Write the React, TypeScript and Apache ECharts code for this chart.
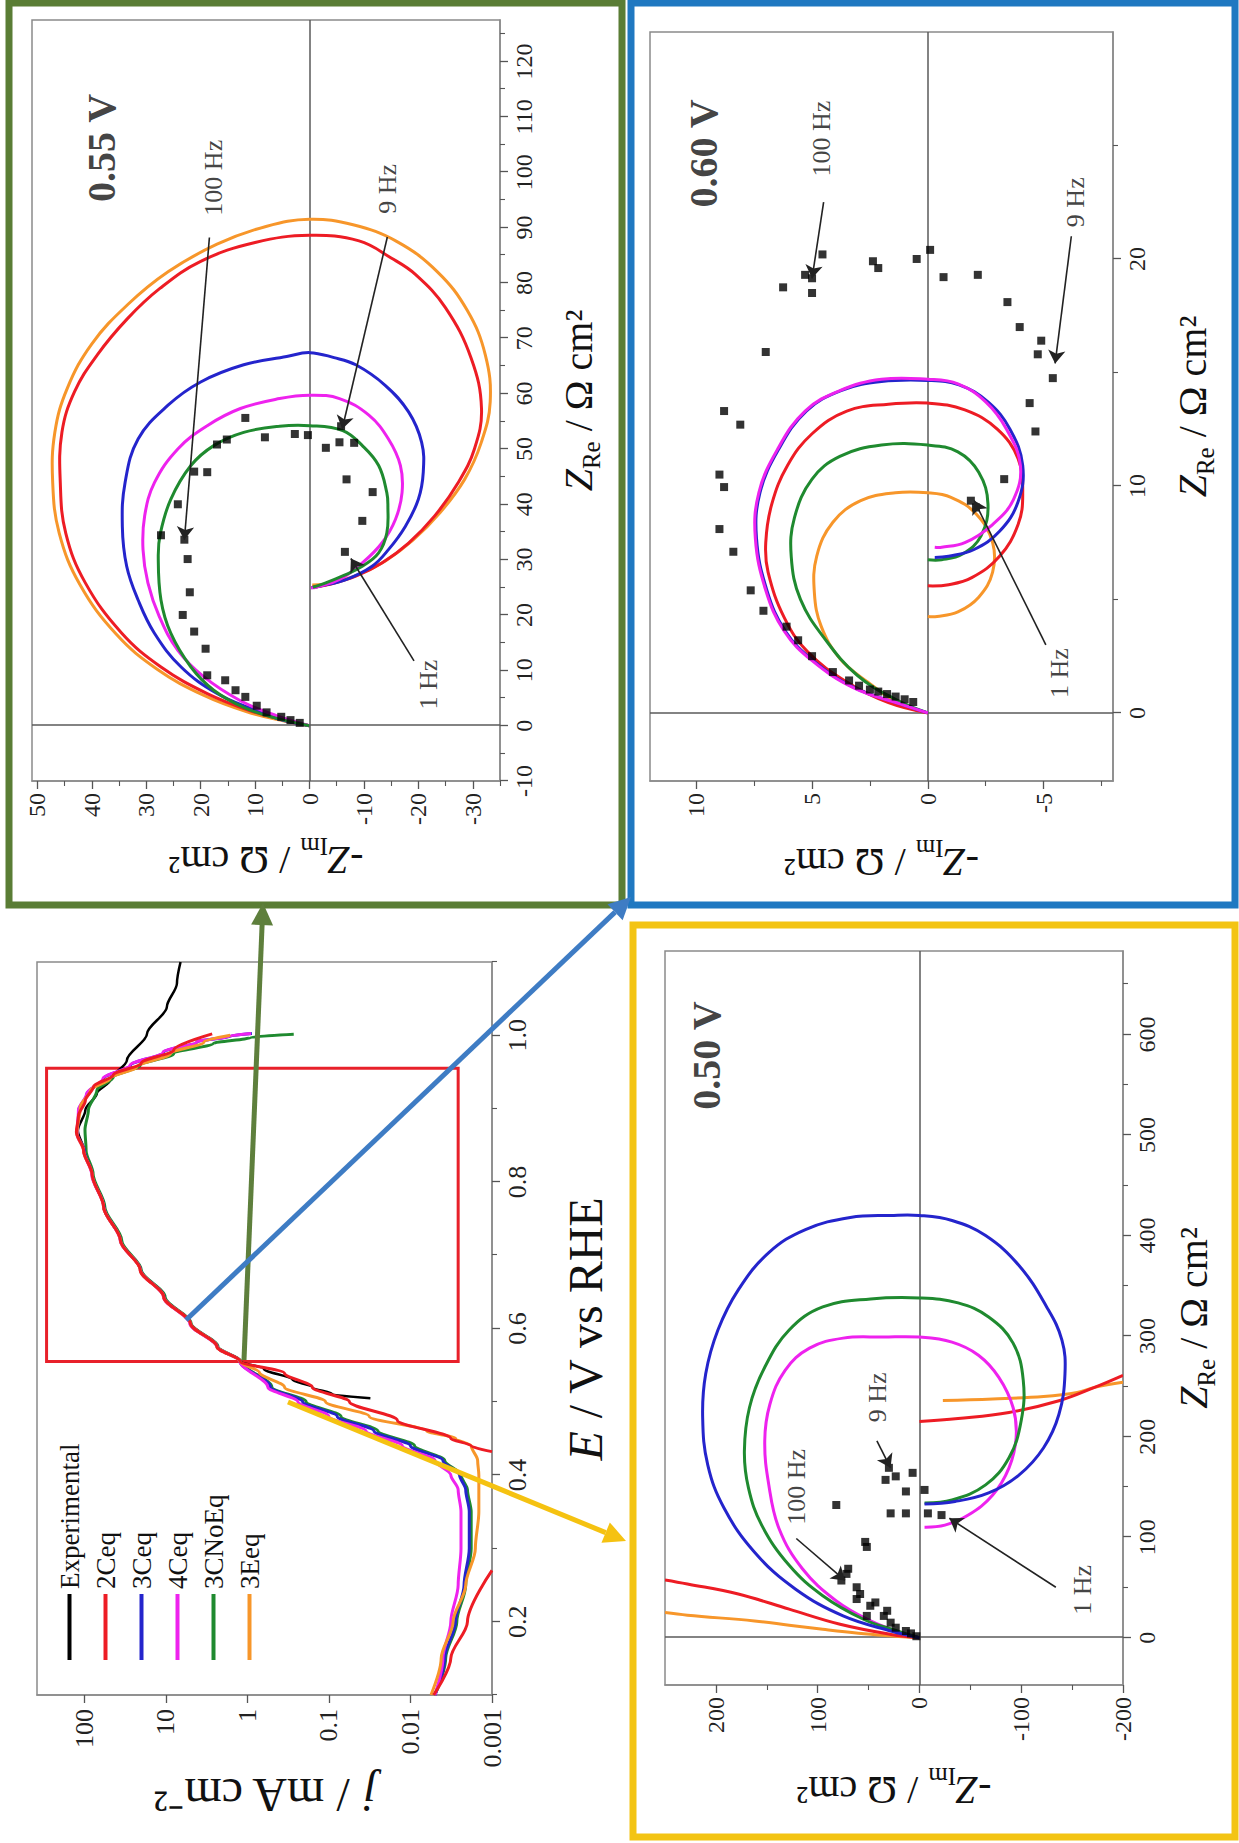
import React, { useEffect, useRef } from 'react';
import * as echarts from 'echarts';

const SERIF = "'Liberation Serif', 'Times New Roman', Times, serif";
const FRAME = '#8a8a8a';
const TICK = '#555555';
const ZERO = '#5a5a5a';
const COL = { exp: '#000000', c2: '#ED1C24', c3: '#2424CC', c4: '#EE22EE', c3n: '#1F8A2F', e3: '#F7962A' };

// ---------------- Polarization curve: j (mA cm-2) vs E (V vs RHE) ----------------
const pE_exp = [0.505, 0.51, 0.52, 0.53, 0.545, 0.555, 0.575, 0.607, 0.643, 0.68, 0.72, 0.766, 0.81, 0.843, 0.87, 0.898, 0.921, 0.939, 0.966, 1.002, 1.039, 1.071, 1.1];
const pJ_exp = [0.031, 0.09, 0.16, 0.28, 0.63, 1.2, 2.35, 5.0, 10.5, 20.5, 36, 58, 80, 101, 120, 97, 70, 48, 30, 17, 9.7, 7.3, 6.6];
const pE_2Ca = [0.1, 0.15, 0.2, 0.27];
const pJ_2Ca = [0.0052, 0.0032, 0.002, 0.001];
const pE_2Cb = [0.432, 0.44, 0.45, 0.475, 0.5, 0.52, 0.539, 0.555, 0.575, 0.607, 0.643, 0.68, 0.72, 0.766, 0.81, 0.843, 0.868, 0.89, 0.911, 0.93, 0.946, 0.962, 0.98, 1.002];
const pJ_2Cb = [0.001, 0.0018, 0.0032, 0.0145, 0.056, 0.16, 0.35, 1.22, 2.36, 5.0, 10.6, 20.6, 36, 58, 80, 102, 125, 118, 97, 77, 44, 20, 8.0, 2.7];
const pE_3C = [0.1, 0.15, 0.2, 0.25, 0.3, 0.35, 0.38, 0.4, 0.42, 0.44, 0.46, 0.48, 0.5, 0.52, 0.555, 0.575, 0.607, 0.643, 0.68, 0.72, 0.766, 0.81, 0.843, 0.865, 0.898, 0.92, 0.941, 0.959, 0.977, 0.991, 0.999, 1.0025];
const pJ_3C = [0.005, 0.0038, 0.0028, 0.0022, 0.0019, 0.0019, 0.0021, 0.0025, 0.004, 0.01, 0.028, 0.079, 0.21, 0.52, 1.23, 2.34, 5.0, 10.5, 20.4, 35.9, 57.5, 80, 100, 121, 117, 93, 58, 27, 10.6, 4.15, 1.62, 0.88];
const pE_4C = [0.1, 0.15, 0.2, 0.25, 0.3, 0.35, 0.38, 0.4, 0.42, 0.44, 0.46, 0.48, 0.5, 0.52, 0.555, 0.575, 0.607, 0.643, 0.68, 0.72, 0.766, 0.81, 0.843, 0.865, 0.898, 0.92, 0.941, 0.959, 0.977, 0.991, 0.999, 1.0025];
const pJ_4C = [0.005, 0.004, 0.0032, 0.0026, 0.0024, 0.0024, 0.0026, 0.0032, 0.005, 0.0126, 0.035, 0.1, 0.24, 0.56, 1.23, 2.36, 5.1, 10.7, 20.6, 36.3, 58, 81, 102, 123, 118, 94, 59, 27.5, 10.8, 4.2, 1.65, 0.9];
const pE_3CN = [0.1, 0.15, 0.2, 0.25, 0.3, 0.35, 0.38, 0.4, 0.42, 0.44, 0.46, 0.48, 0.5, 0.52, 0.555, 0.575, 0.607, 0.643, 0.68, 0.72, 0.766, 0.811, 0.843, 0.871, 0.898, 0.925, 0.943, 0.959, 0.975, 0.989, 0.997, 1.0015];
const pJ_3CN = [0.005, 0.0037, 0.0027, 0.0021, 0.0018, 0.0018, 0.002, 0.0024, 0.0038, 0.0089, 0.025, 0.071, 0.19, 0.5, 1.2, 2.29, 4.9, 10.2, 20, 34.7, 56, 78, 95, 98, 89, 70, 44, 20.6, 8.0, 2.6, 0.92, 0.27];
const pE_3E = [0.1, 0.15, 0.2, 0.25, 0.3, 0.35, 0.4, 0.42, 0.44, 0.45, 0.46, 0.48, 0.5, 0.52, 0.54, 0.555, 0.575, 0.607, 0.643, 0.68, 0.72, 0.766, 0.81, 0.843, 0.866, 0.902, 0.925, 0.941, 0.957, 0.975, 0.991, 1.0];
const pJ_3E = [0.0056, 0.0042, 0.003, 0.0021, 0.0016, 0.00145, 0.00145, 0.0015, 0.0018, 0.0028, 0.0063, 0.032, 0.11, 0.35, 0.71, 1.23, 2.36, 5.0, 10.6, 20.6, 36, 58, 80, 102, 123, 112, 84, 48, 22.6, 8.8, 3.4, 1.62];
const polELabels = [0.2, 0.4, 0.6, 0.8, 1.0];
const polEMinor = [0.1, 0.3, 0.5, 0.7, 0.9, 1.1];
const rectE = [0.555, 0.955];
const rectJ = [290, 0.0026];

// ---------------- Nyquist 0.55 V : [Z_Re, -Z_Im] ----------------
const n055_2Ceq = [[0, 0], [0.9, 4.2], [2.7, 10.9], [5.8, 18.8], [10.6, 27.3], [16.7, 34.5], [25.8, 41.2], [34.8, 44.8], [43.9, 45.8], [53, 45.5], [60.3, 43.2], [67, 39], [73.5, 33.5], [79, 27.5], [83.9, 20], [87.3, 10], [88.6, 0], [87.6, -9.1], [84.5, -15], [81.5, -19.5], [75.5, -25], [66.4, -29.7], [57.3, -31.6], [50, -30.3], [43.9, -27.3], [37.9, -23], [33, -18.2], [29.4, -13.3], [27, -8.5], [25.5, -3.5], [25, -0.5]];
const n055_3Eeq = [[0, 0], [0.8, 4.5], [2.5, 11.5], [5.5, 19.5], [10.2, 28], [16.5, 35.5], [25.5, 42.2], [34.8, 46], [44, 47.2], [53, 46.8], [61, 44.5], [69, 40], [76, 33.5], [82, 26], [87, 17], [90.2, 8], [91.5, 0], [90.5, -8], [87.5, -16], [82, -23.5], [75, -29], [67, -32.3], [58.5, -33.2], [51, -31.5], [44.5, -28.5], [38.5, -24], [33.5, -19], [29.8, -14], [27.3, -9], [25.8, -4], [25.4, -0.5]];
const n055_3Ceq = [[0, 0], [1.0, 5], [2.7, 9.7], [5.8, 17], [10.6, 23.6], [16.7, 28.5], [22.7, 31.5], [28.8, 33.6], [36, 34.4], [43.9, 33.9], [51.8, 31.5], [57.9, 26], [62.1, 20], [65.2, 12.1], [66.7, 4.2], [67.4, 0], [66.5, -4.5], [65.2, -8.5], [61.5, -13.9], [56.7, -18.2], [51.2, -20.6], [45.8, -20.9], [40.9, -20], [36, -17.6], [31.8, -14.5], [28.8, -11.5], [26.4, -6.7], [25.2, -1.8], [24.9, -0.3]];
const n055_4Ceq = [[0, 0], [1.8, 6.1], [4.5, 12.7], [8.8, 19.4], [13.6, 24.2], [19.7, 27.6], [25.8, 29.7], [31.8, 30.6], [37.9, 30.3], [43.9, 28.5], [50, 24.2], [54.2, 18.8], [57.3, 12.7], [59.1, 5.5], [59.7, 0], [59.1, -5.5], [56.1, -10.9], [51.8, -14.5], [47, -16.7], [42.1, -17], [37.3, -15.8], [33, -13.3], [29.4, -9.7], [26.4, -5.5], [25, -1.2], [24.9, -0.3]];
const n055_3CNoEq = [[0, 0], [1.5, 6.7], [3.3, 12.1], [6.4, 17.6], [10.6, 21.8], [16.7, 25.5], [22.7, 27.3], [30.6, 27.8], [34.8, 27.4], [40.9, 25.5], [47, 21.8], [50.6, 17.6], [53, 12.1], [54.1, 5.5], [54.2, 0], [53.3, -6.1], [50.6, -9.7], [47, -12.7], [42.1, -14.2], [39.7, -14.4], [34.8, -14.2], [31.2, -12.7], [28.8, -9.7], [27, -6], [25.8, -3], [25, -0.6]];
const n055_exp = [[0.5, 1.8], [1.0, 3.5], [1.6, 5.2], [2.4, 7.9], [3.6, 9.7], [5.2, 11.8], [6.4, 13.6], [8.2, 15.5], [9.1, 18.8], [13.9, 19.1], [17, 21.2], [20, 23.3], [24.1, 22], [30.1, 22.4], [33.6, 23], [34.4, 27.3], [40, 24.2], [45.9, 21.2], [45.8, 18.8], [50.8, 17], [51.7, 15.2], [55.6, 11.8], [52.1, 8.2], [52.7, 2.7], [52.5, 0.3], [50.2, -3], [51.2, -5.5], [51.1, -8.2], [54.1, -5.8], [44.5, -6.8], [42.2, -11.6], [37, -9.7], [31.4, -6.5]];
const ann055 = [[[88.2, 18.4], [33.6, 23.0]], [[88.3, -14.3], [53.6, -6.0]], [[11.7, -19.2], [30.2, -7.6]]];
const lbl055 = [['100 Hz', 99, 17.6], ['9 Hz', 97, -14.4], ['1 Hz', 7.4, -21.8]];
const title055 = ['0.55 V', 104.4, 38.2];
const x055Labels = [-10, 0, 10, 20, 30, 40, 50, 60, 70, 80, 90, 100, 110, 120];
const x055Minor = [-5, 5, 15, 25, 35, 45, 55, 65, 75, 85, 95, 105, 115, 125];
const y055Labels = [-30, -20, -10, 0, 10, 20, 30, 40, 50];
const y055Minor = [-35, -25, -15, -5, 5, 15, 25, 35, 45];

// ---------------- Nyquist 0.60 V ----------------
const n060_2Ceq = [[0, 0], [0.45, 1.7], [1.36, 3.5], [2.7, 5.2], [4.2, 6.2], [6.2, 6.9], [7.5, 7.0], [9.2, 6.74], [10.9, 6.06], [12.3, 5.0], [13.3, 3.5], [13.6, 1.7], [13.65, 0], [13.35, -1.6], [12.5, -3.0], [11.2, -3.9], [9.65, -4.1], [8.3, -3.9], [6.9, -3.1], [5.96, -1.9], [5.65, -0.9], [5.6, 0]];
const n060_3Ceq = [[0, 0], [0.4, 1.2], [1.1, 3.15], [2.3, 4.95], [3.6, 6.15], [5.4, 6.95], [7.7, 7.4], [9.7, 7.25], [11.6, 6.45], [13.3, 5.25], [14.2, 3.75], [14.6, 2.0], [14.65, 0], [14.45, -1.35], [13.7, -2.6], [12.5, -3.55], [10.9, -4.1], [9.3, -3.9], [8.0, -3.1], [7.2, -2.0], [6.9, -0.9], [6.85, -0.3]];
const n060_4Ceq = [[0, 0], [0.4, 1.2], [1.1, 3.2], [2.3, 5], [3.6, 6.2], [5.4, 7.0], [7.7, 7.45], [9.7, 7.3], [11.6, 6.5], [13.3, 5.3], [14.2, 3.8], [14.7, 2.0], [14.7, 0], [14.5, -1.3], [13.7, -2.5], [12.5, -3.4], [10.9, -4.0], [9.4, -3.7], [8.3, -2.8], [7.5, -1.6], [7.3, -0.6], [7.3, -0.3]];
const n060_3CNoEq = [[0, 0], [0.6, 1.4], [1.66, 3.05], [3.2, 4.4], [5.0, 5.5], [6.9, 5.9], [8.6, 5.76], [10.3, 5.0], [11.3, 3.8], [11.8, 2.0], [11.8, 0], [11.5, -1.3], [10.6, -2.2], [9.2, -2.6], [7.8, -2.3], [7.0, -1.5], [6.75, -0.6], [6.75, 0]];
const n060_3Eeq = [[0, 0], [0.4, 1.2], [1.36, 2.6], [2.4, 3.8], [3.8, 4.6], [5.3, 4.9], [6.9, 4.8], [8.4, 4.1], [9.35, 2.9], [9.7, 1.4], [9.7, 0], [9.5, -1.0], [8.75, -2.1], [7.5, -2.8], [6.2, -2.8], [5.1, -2.2], [4.45, -1.3], [4.25, -0.4], [4.25, 0]];
const n060_exp = [[0.48, 0.63], [0.6, 1.0], [0.72, 1.39], [0.83, 1.76], [0.94, 2.14], [1.03, 2.5], [1.2, 2.97], [1.43, 3.4], [1.8, 4.1], [2.5, 5.0], [3.2, 5.6], [3.8, 6.1], [4.5, 7.1], [5.4, 7.65], [7.1, 8.4], [8.1, 9.0], [9.95, 8.8], [10.5, 9.0], [12.7, 8.1], [13.3, 8.8], [15.9, 7.0], [18.75, 6.25], [18.5, 5.0], [19.15, 5.0], [19.3, 5.3], [20.2, 4.55], [19.9, 2.37], [19.6, 2.14], [20.0, 0.48], [20.4, -0.1], [19.2, -0.68], [19.3, -2.16], [18.1, -3.44], [17.0, -3.97], [16.4, -4.9], [15.8, -4.75], [14.75, -5.4], [13.65, -4.4], [12.4, -4.65], [10.3, -3.3], [9.35, -1.86], [9.05, -2.08]];
const ann060 = [[[22.5, 4.5], [19.15, 5.0]], [[21.0, -6.2], [15.4, -5.5]], [[3.0, -5.1], [9.36, -2.0]]];
const lbl060 = [['100 Hz', 25.3, 4.6], ['9 Hz', 22.5, -6.4], ['1 Hz', 1.75, -5.7]];
const title060 = ['0.60 V', 24.65, 9.68];
const x060Labels = [0, 10, 20];
const x060Minor = [5, 15, 25];
const y060Labels = [-5, 0, 5, 10];
const y060Minor = [-7.5, -2.5, 2.5, 7.5];

// ---------------- Nyquist 0.50 V ----------------
const n050_2Ceq_a = [[0, 0], [3.3, 28], [13.4, 78], [28.4, 128], [43.5, 178], [53.5, 228], [57.5, 250]];
const n050_2Ceq_b = [[261, -200], [249, -172], [236, -138], [224, -88], [218, -38], [215, 0]];
const n050_3Eeq_a = [[0, 0], [2, 30], [4.5, 60], [8.4, 95], [12.5, 128], [16.7, 162], [22.4, 228], [25, 250]];
const n050_3Eeq_b = [[254, -200], [249, -172], [244, -155], [240, -122], [237.5, -72], [236, -23]];
const n050_3Ceq = [[0, 0], [6.7, 28], [21.7, 75], [48.5, 122], [85, 162], [129, 192], [172, 208], [219, 213], [262.5, 210], [306, 198], [346, 178], [383, 148], [406, 112], [418, 68], [420, 28], [420, 0], [415, -32], [400, -65], [370, -98], [329, -125], [296, -140], [262.5, -143], [222, -137], [189, -122], [162, -98], [144, -68], [135.5, -35], [133, -5]];
const n050_3CNoEq = [[0, 0], [6.7, 21.7], [18.4, 55], [41.8, 95], [72, 128], [112, 155], [149, 168], [185.6, 172], [229, 167], [269, 152], [306, 128], [329, 95], [337, 48], [338, 0], [333, -38], [319, -68], [293, -92], [256, -102], [216, -100], [179, -88], [152, -65], [137, -32], [134, -5]];
const n050_4Ceq = [[0, 0], [5, 18], [16.7, 48], [36.8, 82], [68.6, 115], [108.7, 138], [152, 148], [195.7, 152], [232, 147], [266, 132], [288, 108], [298, 75], [299, 35], [299, 0], [294, -32], [281, -58], [259, -78], [229, -92], [199, -95], [169, -88], [142, -72], [122, -48], [112, -25], [110, -5]];
const n050_exp = [[1.5, 3], [4.3, 8.3], [6.7, 13.3], [10, 23.3], [15, 28.3], [21.7, 35], [21.7, 51.7], [26.8, 31.7], [31.8, 48.3], [35.1, 43.3], [38.5, 61.7], [43.5, 58.3], [50.2, 61.7], [56.9, 76.7], [63.5, 71.7], [68.6, 70], [90.3, 51.7], [95.3, 53.3], [132, 81.7], [123.7, 28.3], [123.7, 13.3], [145.5, 13.3], [147, -5], [123.7, -8.3], [122, -21.7], [164, 6.7], [160.5, 23.3], [157, 33.3], [169, 30]];
const ann050 = [[[98.7, 121], [57, 73.2]], [[195.7, 41.8], [169, 28.4]], [[50.2, -134], [118.8, -29.4]]];
const lbl050 = [['100 Hz', 150, 120.6], ['9 Hz', 239, 41], ['1 Hz', 47.7, -160]];
const title050 = ['0.50 V', 579, 209];
const x050Labels = [0, 100, 200, 300, 400, 500, 600];
const x050Minor = [50, 150, 250, 350, 450, 550, 650];
const y050Labels = [-200, -100, 0, 100, 200];
const y050Minor = [-150, -50, 50, 150];

const legendNames = ['Experimental', '2Ceq', '3Ceq', '4Ceq', '3CNoEq', '3Eeq'];

// ---------------- helpers ----------------
const pairs = (xs: number[], ys: number[]) => xs.map((x, i) => [x, ys[i]]);

const nameStyle = (fs: number) => ({
  fontFamily: SERIF, fontSize: fs, color: '#111',
  rich: {
    i: { fontFamily: SERIF, fontSize: fs, fontStyle: 'italic', color: '#111', lineHeight: fs, verticalAlign: 'top' },
    t: { fontFamily: SERIF, fontSize: fs, color: '#111', lineHeight: fs, verticalAlign: 'top' },
    s: { fontFamily: SERIF, fontSize: Math.round(fs * 0.62), color: '#111', lineHeight: Math.round(fs * 1.15), verticalAlign: 'bottom' },
  },
});

function mainAxis(kind: 'x' | 'y', gridIndex: number, min: number, max: number, labels: number[], name: string, nameGap: number, fs: number, labelFs: number, fmt?: any) {
  return {
    type: 'value', gridIndex, min, max, position: kind === 'x' ? 'bottom' : 'left',
    axisLine: { show: true, onZero: false, lineStyle: { color: FRAME, width: 1.5 } },
    axisTick: { show: true, inside: false, length: 8, customValues: labels, lineStyle: { color: TICK, width: 1.3 } },
    axisLabel: { show: true, customValues: labels, margin: 12, fontSize: labelFs, fontFamily: SERIF, color: '#222', formatter: fmt },
    splitLine: { show: false },
    name, nameLocation: 'middle', nameGap, nameTextStyle: nameStyle(fs),
  };
}
function minorAxis(kind: 'x' | 'y', gridIndex: number, min: number, max: number, values: number[]) {
  return {
    type: 'value', gridIndex, min, max, position: kind === 'x' ? 'bottom' : 'left',
    axisLine: { show: false, onZero: false },
    axisTick: { show: true, inside: false, length: 5, customValues: values, lineStyle: { color: TICK, width: 1.1 } },
    axisLabel: { show: false },
    splitLine: { show: false },
  };
}
function arrow(x1: number, y1: number, x2: number, y2: number, color: string, w = 5, hl = 22, hw = 11) {
  const dx = x2 - x1, dy = y2 - y1;
  const L = Math.hypot(dx, dy);
  const ux = dx / L, uy = dy / L;
  const bx = x2 - ux * hl, by = y2 - uy * hl;
  const nx = -uy, ny = ux;
  return [
    { type: 'line', z: 100, shape: { x1, y1, x2: bx, y2: by }, style: { stroke: color, lineWidth: w } },
    { type: 'polygon', z: 100, shape: { points: [[x2, y2], [bx + nx * hw, by + ny * hw], [bx - nx * hw, by - ny * hw]] }, style: { fill: color } },
  ];
}
const fmtLog = (v: number) => {
  const l = Math.log10(v);
  const e = Math.round(l);
  if (Math.abs(l - e) > 0.01) return '';
  return e >= 0 ? String(Math.pow(10, e)) : Math.pow(10, e).toFixed(-e);
};

// a smooth curve through the read points, mapped by the grid's own axes
const curve = (name: string, pts: number[][], color: string, gi: number) => ({
  type: 'custom', name, xAxisIndex: gi, yAxisIndex: gi, silent: true, clip: true, z: 2,
  data: [pts[0]],
  renderItem: (params: any, api: any) => {
    if (params.dataIndex !== 0) return null;
    return {
      type: 'polyline',
      shape: { points: pts.map((p) => api.coord(p)), smooth: 0.4 },
      style: { stroke: color, lineWidth: 3, fill: 'none' },
    };
  },
});

function buildOption() {
  const grid = [
    { left: 148, top: 37, width: 733, height: 455 },
    { left: 1062, top: 32, width: 761, height: 468 },
    { left: 1062, top: 650, width: 749, height: 463 },
    { left: 158, top: 665, width: 734, height: 458 },
  ].map((g) => ({ ...g, show: true, borderColor: FRAME, borderWidth: 1.5, backgroundColor: 'transparent' }));

  const NX = '{i|Z}{s|Re}{t| / Ω cm²}';
  const NY = '{t|-}{i|Z}{s|Im}{t| / Ω cm²}';

  const xAxis: any[] = [
    mainAxis('x', 0, 0.1, 1.1, polELabels, '{i|E}{t| / V vs RHE}', 69, 48, 26, (v: number) => v.toFixed(1)),
    mainAxis('x', 1, -10, 127.5, x055Labels, NX, 58, 40, 24),
    mainAxis('x', 2, -3, 30, x060Labels, NX, 59, 40, 24),
    mainAxis('x', 3, -47, 683, x050Labels, NX, 50, 40, 24),
    minorAxis('x', 0, 0.1, 1.1, polEMinor),
    minorAxis('x', 1, -10, 127.5, x055Minor),
    minorAxis('x', 2, -3, 30, x060Minor),
    minorAxis('x', 3, -47, 683, x050Minor),
  ];
  const yAxis: any[] = [
    {
      type: 'log', logBase: 10, gridIndex: 0, min: 0.001, max: 380, position: 'left',
      axisLine: { show: true, onZero: false, lineStyle: { color: FRAME, width: 1.5 } },
      axisTick: { show: true, length: 8, lineStyle: { color: TICK, width: 1.3 } },
      axisLabel: { show: true, margin: 14, fontSize: 26, fontFamily: SERIF, color: '#222', formatter: fmtLog, showMaxLabel: false },
      splitLine: { show: false },
      name: '{i|j}{t| / mA cm⁻²}', nameLocation: 'middle', nameGap: 60, nameTextStyle: nameStyle(48),
    },
    mainAxis('y', 1, -35, 51, y055Labels, NY, 53, 40, 24),
    mainAxis('y', 2, -8, 12, y060Labels, NY, 55, 40, 24),
    mainAxis('y', 3, -200, 250, y050Labels, NY, 79, 40, 24),
    minorAxis('y', 1, -35, 51, y055Minor),
    minorAxis('y', 2, -8, 12, y060Minor),
    minorAxis('y', 3, -200, 250, y050Minor),
  ];

  const line = (name: string, data: any[], color: string, extra: any = {}) => ({
    type: 'line', name, data, xAxisIndex: 0, yAxisIndex: 0, symbol: 'none', showSymbol: false,
    smooth: 0.3, smoothMonotone: 'x', lineStyle: { color, width: 3 }, itemStyle: { color }, clip: true, z: 2, silent: true, ...extra,
  });

  const series: any[] = [
    line('Experimental', pairs(pE_exp, pJ_exp), COL.exp, {
      lineStyle: { color: COL.exp, width: 2.5 },
      markArea: {
        silent: true,
        itemStyle: { color: 'rgba(0,0,0,0)', borderColor: '#E8202A', borderWidth: 3 },
        data: [[{ coord: [rectE[0], rectJ[0]] }, { coord: [rectE[1], rectJ[1]] }]],
      },
    }),
    line('3CNoEq', pairs(pE_3CN, pJ_3CN), COL.c3n),
    line('3Ceq', pairs(pE_3C, pJ_3C), COL.c3),
    line('4Ceq', pairs(pE_4C, pJ_4C), COL.c4),
    line('3Eeq', pairs(pE_3E, pJ_3E), COL.e3),
    line('2Ceq', pairs(pE_2Ca, pJ_2Ca), COL.c2),
    line('2Ceq', pairs(pE_2Cb, pJ_2Cb), COL.c2),
  ];

  const panels: any[] = [
    { gi: 1, curves: [['3Eeq', n055_3Eeq, COL.e3], ['2Ceq', n055_2Ceq, COL.c2], ['3Ceq', n055_3Ceq, COL.c3], ['4Ceq', n055_4Ceq, COL.c4], ['3CNoEq', n055_3CNoEq, COL.c3n]], exp: n055_exp, ann: ann055, lbl: lbl055, title: title055 },
    { gi: 2, curves: [['3Eeq', n060_3Eeq, COL.e3], ['3CNoEq', n060_3CNoEq, COL.c3n], ['2Ceq', n060_2Ceq, COL.c2], ['3Ceq', n060_3Ceq, COL.c3], ['4Ceq', n060_4Ceq, COL.c4]], exp: n060_exp, ann: ann060, lbl: lbl060, title: title060 },
    { gi: 3, curves: [['3Eeq', n050_3Eeq_a, COL.e3], ['3Eeq', n050_3Eeq_b, COL.e3], ['2Ceq', n050_2Ceq_a, COL.c2], ['2Ceq', n050_2Ceq_b, COL.c2], ['4Ceq', n050_4Ceq, COL.c4], ['3CNoEq', n050_3CNoEq, COL.c3n], ['3Ceq', n050_3Ceq, COL.c3]], exp: n050_exp, ann: ann050, lbl: lbl050, title: title050 },
  ];

  panels.forEach((p) => {
    p.curves.forEach((c: any, k: number) => {
      series.push(curve(`nyq${p.gi}-${c[0]}-${k}`, c[1], c[2], p.gi));
    });
    series.push({
      type: 'scatter', name: `nyq${p.gi}-exp`, data: p.exp, xAxisIndex: p.gi, yAxisIndex: p.gi,
      symbol: 'rect', symbolSize: 8, itemStyle: { color: '#000' }, z: 4, silent: true,
      markLine: {
        silent: true, z: 1, symbol: ['none', 'none'], label: { show: false },
        lineStyle: { color: ZERO, width: 1.5, type: 'solid' },
        data: [{ xAxis: 0 }, { yAxis: 0 }],
      },
    });
    const lblData = p.lbl.map((l: any) => ({ name: l[0], value: [l[1], l[2]] }));
    lblData.push({ name: p.title[0], value: [p.title[1], p.title[2]], label: { fontSize: 40, fontWeight: 'bold' } });
    series.push({
      type: 'scatter', name: `nyq${p.gi}-ann`, data: lblData, xAxisIndex: p.gi, yAxisIndex: p.gi,
      symbol: 'circle', symbolSize: 1, itemStyle: { color: 'rgba(0,0,0,0)' }, z: 6, silent: true,
      label: { show: true, position: 'inside', formatter: '{b}', fontFamily: SERIF, fontSize: 26, color: '#111' },
      markLine: {
        silent: true, z: 6, symbol: ['none', 'arrow'], symbolSize: 13, label: { show: false },
        lineStyle: { color: '#222', width: 1.6, type: 'solid' },
        data: p.ann.map((a: any) => [{ coord: a[0] }, { coord: a[1] }]),
      },
    });
  });

  const graphic: any[] = [
    { type: 'rect', z: 99, shape: { x: 938, y: 9, width: 902, height: 613 }, style: { fill: 'rgba(0,0,0,0)', stroke: '#5A7D35', lineWidth: 7 } },
    { type: 'rect', z: 99, shape: { x: 938, y: 631, width: 902, height: 604 }, style: { fill: 'rgba(0,0,0,0)', stroke: '#1F78C1', lineWidth: 7 } },
    { type: 'rect', z: 99, shape: { x: 6, y: 633, width: 912, height: 602 }, style: { fill: 'rgba(0,0,0,0)', stroke: '#F3C414', lineWidth: 7 } },
    ...arrow(483, 244, 940, 263, '#5E7F3C'),
    ...arrow(523, 186, 946, 631, '#3E7CC4'),
    ...arrow(441, 288, 302, 626, '#F5C211'),
  ];

  return {
    animation: false,
    backgroundColor: '#ffffff',
    textStyle: { fontFamily: SERIF },
    grid,
    xAxis,
    yAxis,
    legend: {
      data: legendNames, orient: 'vertical', left: 178, top: 51, itemWidth: 66, itemHeight: 4, itemGap: 9, icon: 'rect',
      textStyle: { fontFamily: SERIF, fontSize: 27, color: '#111' }, selectedMode: false,
    },
    series,
    graphic,
  };
}

export default function App() {
  const ref = useRef<HTMLDivElement>(null);
  useEffect(() => {
    document.body.style.margin = '0';
    const chart = echarts.init(ref.current as HTMLDivElement, null, { renderer: 'svg', width: 1843, height: 1239 });
    chart.setOption(buildOption() as any);
    return () => chart.dispose();
  }, []);
  return (
    <div style={{ position: 'absolute', left: 0, top: 0, width: 1239, height: 1843, overflow: 'hidden', background: '#fff' }}>
      <div
        ref={ref}
        style={{ position: 'absolute', left: 0, top: 0, width: 1843, height: 1239, transformOrigin: '0 0', transform: 'translate(0px, 1843px) rotate(-90deg)' }}
      />
    </div>
  );
}
